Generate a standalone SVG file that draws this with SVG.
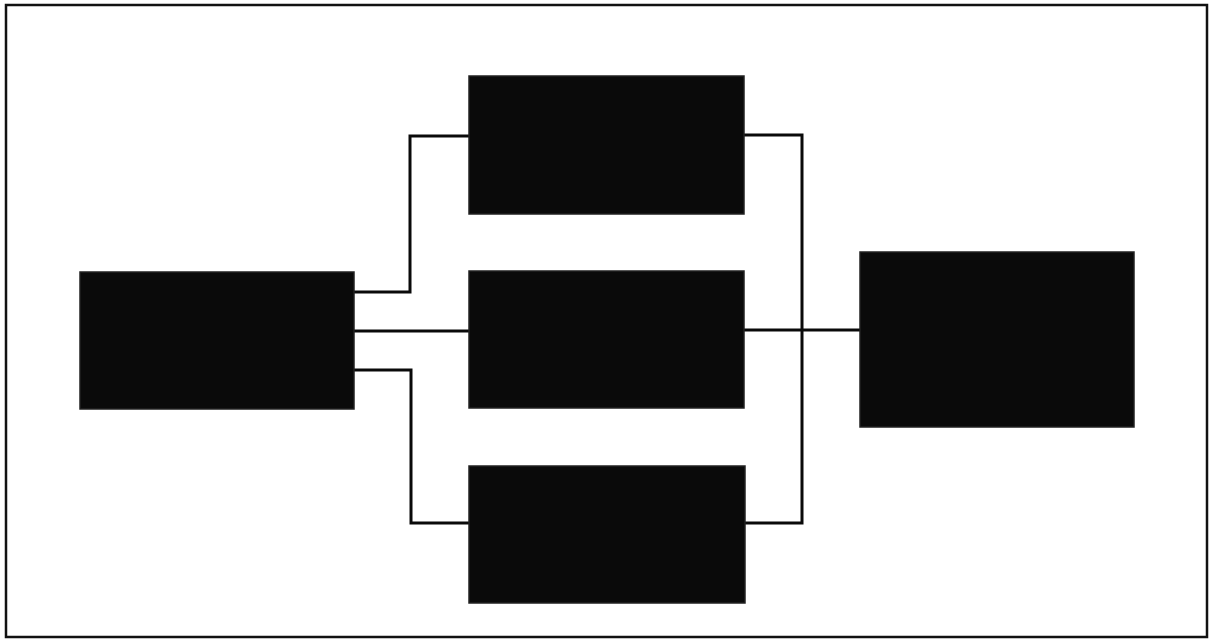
<svg xmlns="http://www.w3.org/2000/svg" width="1212" height="641" viewBox="0 0 1212 641">
<style>
.frame{fill:none;stroke:#111;stroke-width:2.5}
.box{fill:#0a0a0a;stroke:#222;stroke-width:1.5}
.wire{fill:none;stroke:#0a0a0a;stroke-width:3}
</style>
<rect x="0" y="0" width="1212" height="641" fill="#fff"/>
<rect class="frame" x="6" y="5" width="1201" height="632"/>
<g id="connectors">
<polyline class="wire" points="354,292 410,292 410,136 469,136"/>
<polyline class="wire" points="354,331 469,331"/>
<polyline class="wire" points="354,370 411,370 411,523 469,523"/>
<polyline class="wire" points="744,135 802,135 802,523 745,523"/>
<polyline class="wire" points="744,330 860,330"/>
</g>
<g id="node-left"><rect class="box" x="80" y="272" width="274" height="137"/></g>
<g id="node-top"><rect class="box" x="469" y="76" width="275" height="138"/></g>
<g id="node-middle"><rect class="box" x="469" y="271" width="275" height="137"/></g>
<g id="node-bottom"><rect class="box" x="469" y="466" width="276" height="137"/></g>
<g id="node-right"><rect class="box" x="860" y="252" width="274" height="175"/></g>
</svg>
